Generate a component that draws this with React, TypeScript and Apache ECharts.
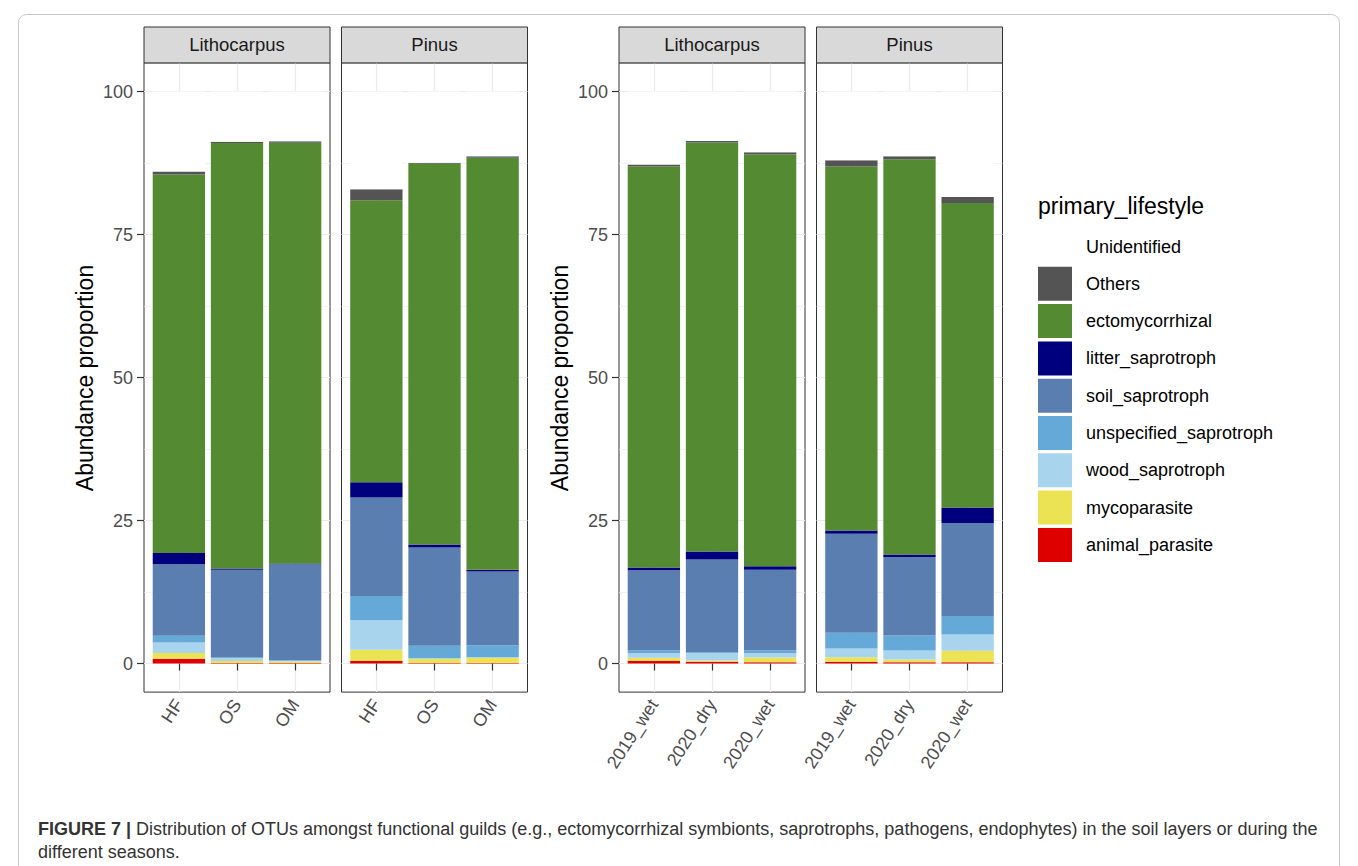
import React, { useEffect, useRef } from "react";
import * as echarts from "echarts";

// ---- data ----
const layerCategories = ["HF", "OS", "OM"];
const seasonCategories = ["2019_wet", "2020_dry", "2020_wet"];
const panelStrips = ["Lithocarpus", "Pinus", "Lithocarpus", "Pinus"];
const yTicks = [0, 25, 50, 75, 100];
const yMinorTicks = [12.5, 37.5, 62.5, 87.5];

// values per panel (Litho-layer, Pinus-layer, Litho-season, Pinus-season), 3 bars each
const animalParasite = [0.82, 0.1, 0.1, 0.45, 0.1, 0.1, 0.47, 0.3, 0.23, 0.3, 0.23, 0.23];
const mycoparasite = [1.0, 0.32, 0.25, 1.95, 0.67, 0.9, 0.53, 0.23, 0.82, 0.8, 0.47, 1.99];
const woodSaprotroph = [1.85, 0.53, 0.15, 5.15, 0.17, 0.1, 0.8, 1.27, 0.75, 1.53, 1.58, 2.86];
const unspecifiedSaprotroph = [1.17, 0.1, 0.1, 4.25, 2.15, 2.1, 0.48, 0.18, 0.48, 2.75, 2.62, 3.21];
const soilSaprotroph = [12.51, 15.35, 16.75, 17.2, 17.2, 12.9, 14.02, 16.22, 14.12, 17.32, 13.73, 16.29];
const litterSaprotroph = [1.95, 0.2, 0.15, 2.7, 0.5, 0.3, 0.5, 1.37, 0.6, 0.55, 0.42, 2.7];
const ectomycorrhizal = [66.2, 74.4, 73.55, 49.3, 66.6, 72.0, 70.1, 71.53, 72.0, 63.65, 69.1, 53.22];
const others = [0.5, 0.2, 0.25, 1.9, 0.15, 0.3, 0.35, 0.25, 0.4, 1.1, 0.55, 1.05];
const unidentified = [14.0, 8.8, 8.7, 17.1, 12.45, 11.3, 12.75, 8.65, 10.6, 12.0, 11.3, 18.45];

const guildNames = [
  "animal_parasite",
  "mycoparasite",
  "wood_saprotroph",
  "unspecified_saprotroph",
  "soil_saprotroph",
  "litter_saprotroph",
  "ectomycorrhizal",
  "Others",
  "Unidentified",
];
const guildValues = [
  animalParasite,
  mycoparasite,
  woodSaprotroph,
  unspecifiedSaprotroph,
  soilSaprotroph,
  litterSaprotroph,
  ectomycorrhizal,
  others,
  unidentified,
];
const guildColors = [
  "#DE0000",
  "#EBE354",
  "#A9D4EE",
  "#64A9D8",
  "#5B7EB0",
  "#00007E",
  "#538A32",
  "#545454",
  "#FFFFFF",
];

const FONT = "Liberation Sans";

export default function App() {
  const ref = useRef<HTMLDivElement>(null);

  useEffect(() => {
    if (!ref.current) return;
    const chart = echarts.init(ref.current, undefined, { renderer: "svg" });

    const panelLefts = [144, 341.5, 619, 816.5];
    const panelWidth = 186;
    const band = panelWidth / 3.2; // ggplot: 0.6 unit expansion each side
    const panelTop = 62.9;
    const panelHeight = 629.2;
    const panelCats = [layerCategories, layerCategories, seasonCategories, seasonCategories];
    const showY = [true, false, true, false];
    const N = panelLefts.length;

    // grids 0..3: panel frames (axes, gridlines); grids 4..7: bar areas
    const grid: any[] = [
      ...panelLefts.map((l) => ({
        left: l,
        top: panelTop,
        width: panelWidth,
        height: panelHeight,
        show: true,
        backgroundColor: "#FFFFFF",
        borderColor: "#333333",
        borderWidth: 1,
        containLabel: false,
      })),
      ...panelLefts.map((l) => ({
        left: l + 0.1 * band,
        top: panelTop,
        width: 3 * band,
        height: panelHeight,
        show: false,
        containLabel: false,
      })),
    ];

    const xAxis: any[] = [
      ...panelLefts.map((_, p) => ({
        type: "value",
        gridIndex: p,
        min: 0.4,
        max: 3.6,
        axisLine: { show: false },
        axisTick: {
          show: true,
          customValues: [1, 2, 3],
          length: 7,
          lineStyle: { color: "#333333", width: 1.2 },
        },
        axisLabel: {
          customValues: [1, 2, 3],
          formatter: (v: number) => panelCats[p][Math.round(v) - 1] || "",
          rotate: 57,
          fontSize: 18,
          color: "#4D4D4D",
          fontFamily: FONT,
          margin: 9,
        },
        splitLine: { show: true, lineStyle: { color: "#EBEBEB", width: 1.2 } },
      })),
      ...panelLefts.map((_, p) => ({
        type: "category",
        gridIndex: N + p,
        data: panelCats[p],
        boundaryGap: true,
        axisLine: { show: false },
        axisTick: { show: false },
        axisLabel: { show: false },
        splitLine: { show: false },
      })),
    ];

    const yAxis: any[] = [
      // main y axes of frames
      ...panelLefts.map((_, p) => ({
        type: "value",
        gridIndex: p,
        min: -5,
        max: 105,
        position: "left",
        axisLine: { show: false },
        axisTick: {
          show: showY[p],
          customValues: yTicks,
          length: 7,
          lineStyle: { color: "#333333", width: 1.2 },
        },
        axisLabel: {
          show: showY[p],
          customValues: yTicks,
          fontSize: 18,
          color: "#4D4D4D",
          fontFamily: FONT,
          margin: 11,
        },
        splitLine: { show: true, lineStyle: { color: "#EBEBEB", width: 1.2 } },
      })),
      // minor gridline axes of frames
      ...panelLefts.map((_, p) => ({
        type: "value",
        gridIndex: p,
        min: -5,
        max: 105,
        position: "right",
        axisLine: { show: false },
        axisTick: { show: false, customValues: yMinorTicks },
        axisLabel: { show: false, customValues: yMinorTicks },
        splitLine: { show: true, lineStyle: { color: "#EBEBEB", width: 0.6 } },
      })),
      // bar value axes
      ...panelLefts.map((_, p) => ({
        type: "value",
        gridIndex: N + p,
        min: -5,
        max: 105,
        axisLine: { show: false },
        axisTick: { show: false },
        axisLabel: { show: false },
        splitLine: { show: false },
      })),
    ];

    const series: any[] = [];
    panelLefts.forEach((_, p) => {
      guildNames.forEach((name, g) => {
        series.push({
          type: "bar",
          name,
          xAxisIndex: N + p,
          yAxisIndex: 2 * N + p,
          stack: "s" + p,
          barWidth: "90%",
          silent: true,
          itemStyle: { color: guildColors[g] },
          data: guildValues[g].slice(p * 3, p * 3 + 3),
        });
      });
    });

    const graphics: any[] = [];
    panelLefts.forEach((l, p) => {
      graphics.push({
        type: "rect",
        shape: { x: l, y: 27, width: panelWidth, height: panelTop - 27 },
        style: { fill: "#D9D9D9", stroke: "#333333", lineWidth: 1 },
        z: 10,
      });
      graphics.push({
        type: "text",
        x: l + panelWidth / 2,
        y: (27 + panelTop) / 2,
        style: {
          text: panelStrips[p],
          fontSize: 18.5,
          fontFamily: FONT,
          fill: "#1A1A1A",
          align: "center",
          verticalAlign: "middle",
        },
        z: 11,
      });
    });
    [85, 560].forEach((x) => {
      graphics.push({
        type: "text",
        x,
        y: 378,
        rotation: Math.PI / 2,
        style: {
          text: "Abundance proportion",
          fontSize: 23,
          fontFamily: FONT,
          fill: "#000000",
          align: "center",
          verticalAlign: "middle",
        },
      });
    });
    graphics.push({
      type: "text",
      x: 1038,
      y: 206,
      style: {
        text: "primary_lifestyle",
        fontSize: 23,
        fontFamily: FONT,
        fill: "#000000",
        align: "left",
        verticalAlign: "middle",
      },
    });
    graphics.push({
      type: "rect",
      shape: { x: 18.5, y: 14.5, width: 1321, height: 900, r: 8 },
      style: { fill: "none", stroke: "#C8C8C8", lineWidth: 1 },
    });
    graphics.push({
      type: "text",
      x: 38,
      y: 829,
      style: {
        text:
          "{b|FIGURE 7 |} Distribution of OTUs amongst functional guilds (e.g., ectomycorrhizal symbionts, saprotrophs, pathogens, endophytes) in the soil layers or during the",
        fontSize: 18,
        fontFamily: FONT,
        fill: "#333333",
        verticalAlign: "middle",
        rich: {
          b: { fontSize: 18, fontFamily: FONT, fontWeight: "bold", fill: "#333333" },
        },
      },
    });
    graphics.push({
      type: "text",
      x: 38,
      y: 852,
      style: {
        text: "different seasons.",
        fontSize: 18,
        fontFamily: FONT,
        fill: "#333333",
        verticalAlign: "middle",
      },
    });

    chart.setOption({
      animation: false,
      backgroundColor: "#FFFFFF",
      textStyle: { fontFamily: FONT },
      grid,
      xAxis,
      yAxis,
      legend: {
        orient: "vertical",
        left: 1033,
        top: 224.5,
        itemWidth: 34,
        itemHeight: 34,
        itemGap: 3.3,
        icon: "rect",
        selectedMode: false,
        data: [...guildNames].reverse(),
        textStyle: { fontSize: 18, color: "#000000", fontFamily: FONT, padding: [0, 0, 0, 9] },
      },
      series,
      graphic: graphics,
    });

    return () => chart.dispose();
  }, []);

  return (
    <div
      ref={ref}
      style={{ position: "fixed", left: 0, top: 0, width: 1358, height: 866 }}
    />
  );
}
